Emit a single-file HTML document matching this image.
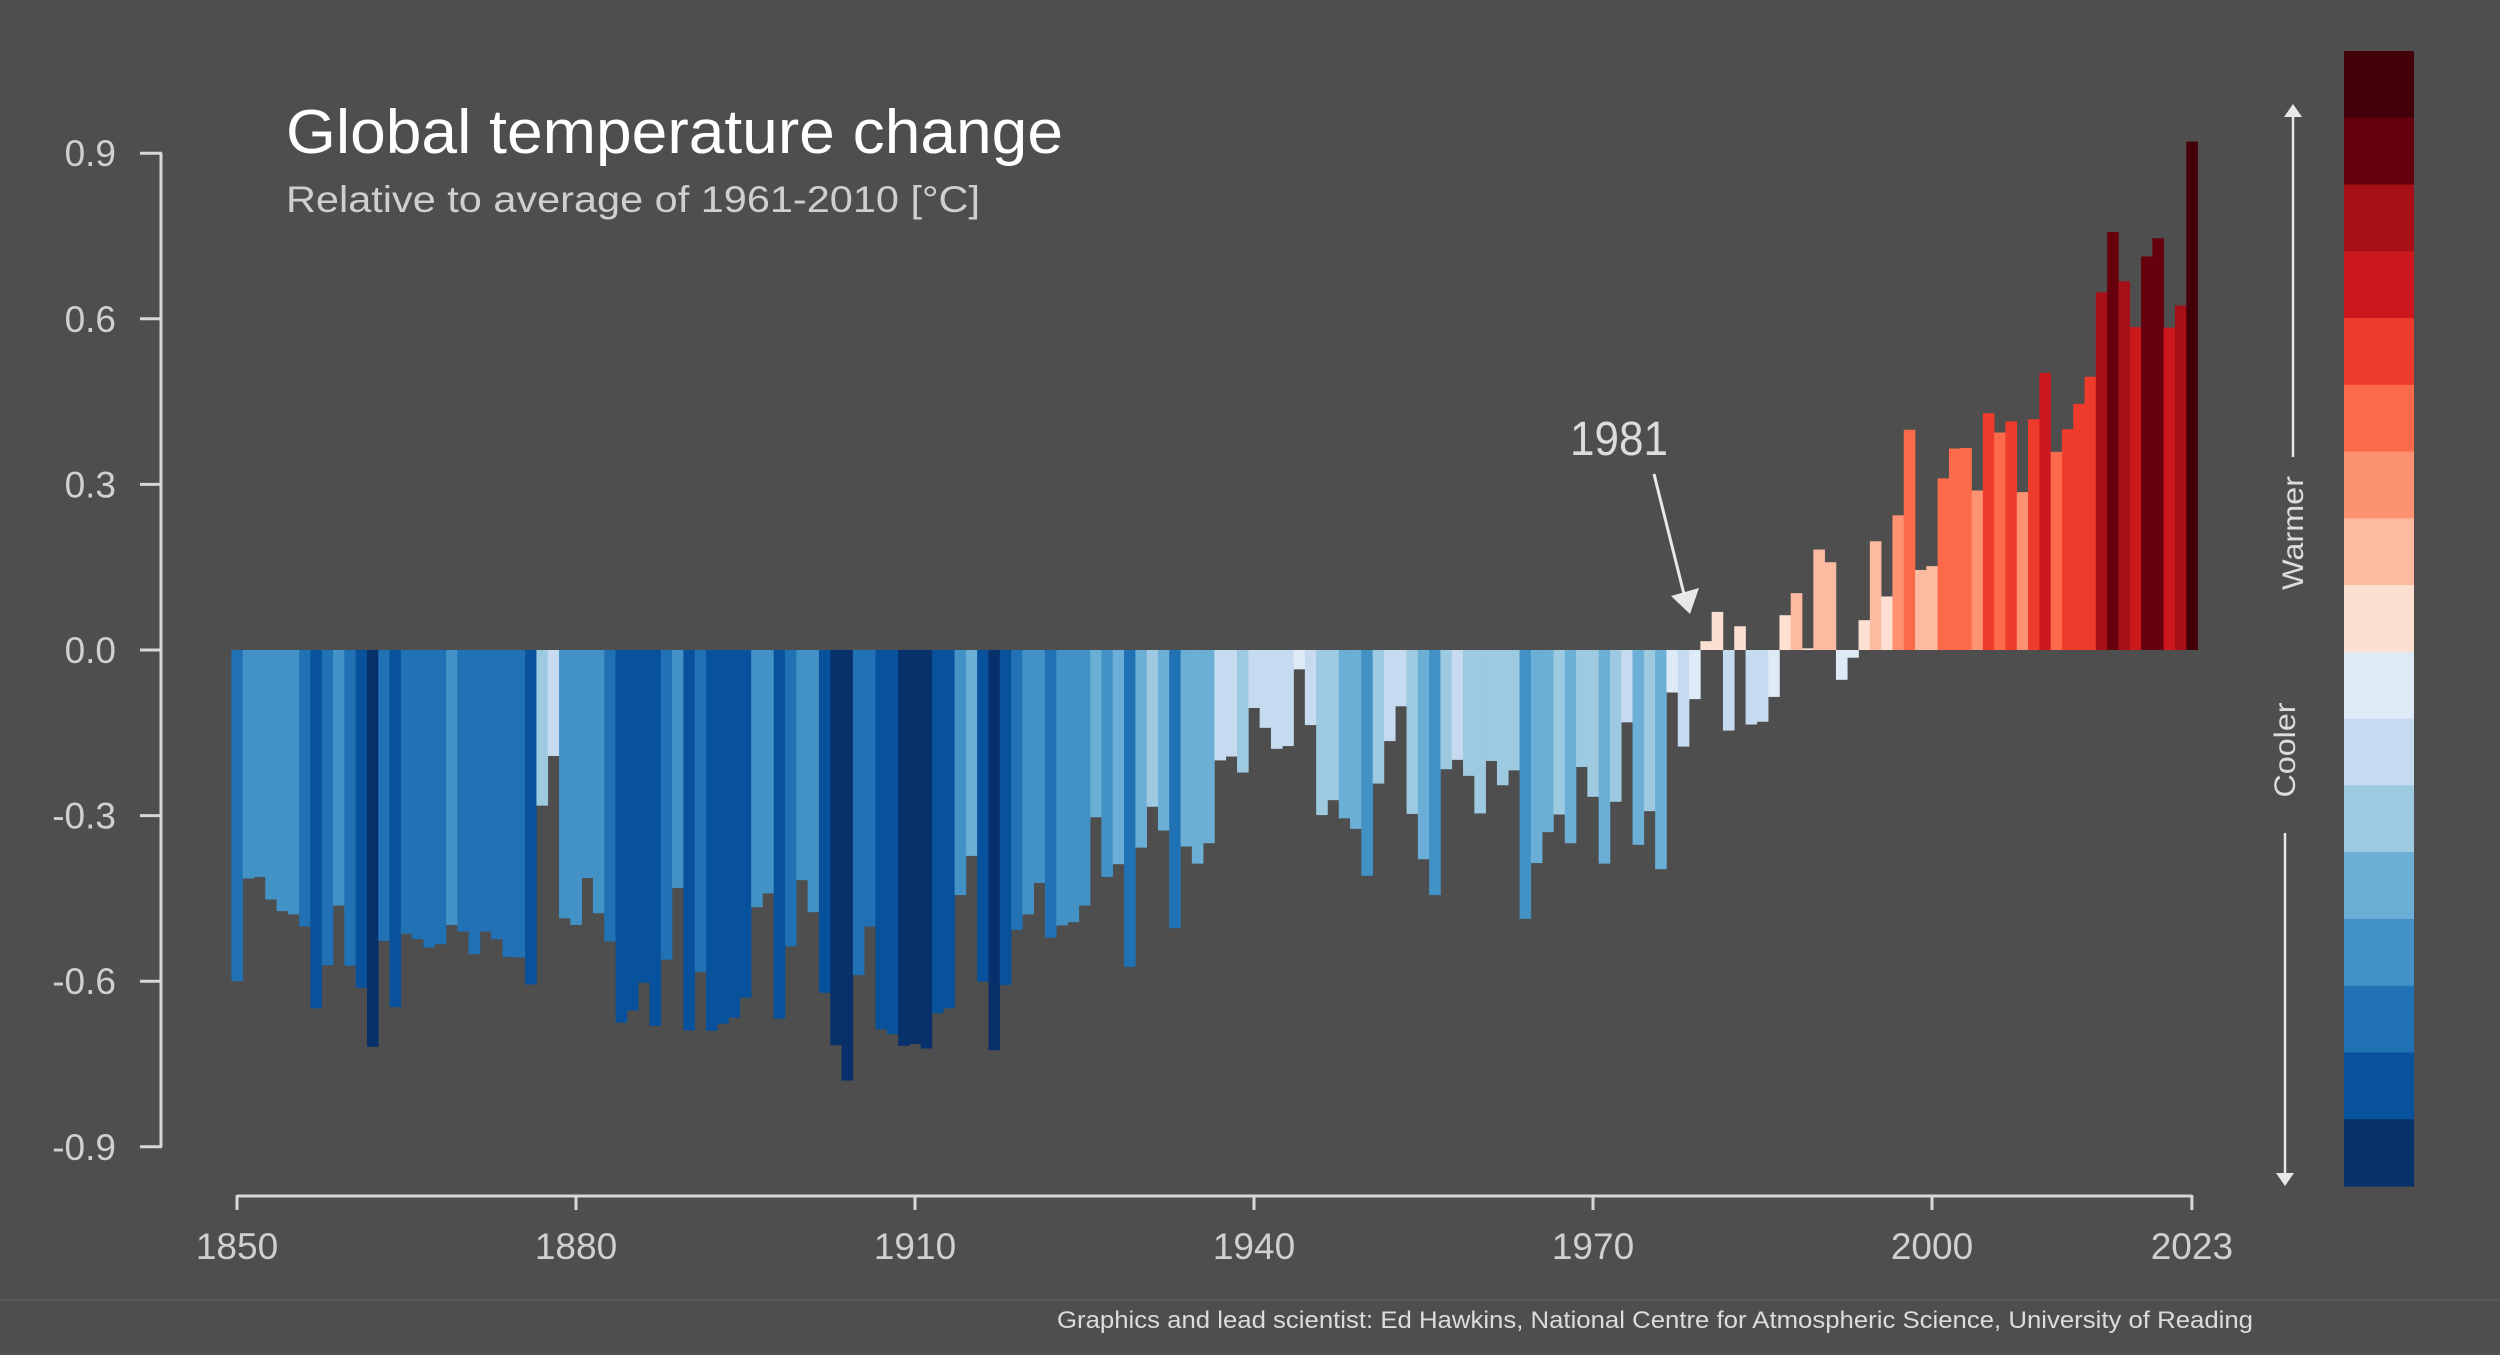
<!DOCTYPE html>
<html><head><meta charset="utf-8">
<style>
html,body{margin:0;padding:0;background:#4e4e4e;}
svg{display:block;}
text{font-family:"Liberation Sans",sans-serif;}
</style></head>
<body>
<svg id="chart" width="2500" height="1355" viewBox="0 0 2500 1355" xmlns="http://www.w3.org/2000/svg">
<rect x="0" y="0" width="2500" height="1355" fill="#4e4e4e"/>
<text x="286" y="153" font-size="62" fill="#ffffff" textLength="777" lengthAdjust="spacingAndGlyphs">Global temperature change</text>
<text x="286" y="212" font-size="37" fill="#cfcfcf" textLength="694" lengthAdjust="spacingAndGlyphs">Relative to average of 1961-2010  [°C]</text>
<g id="bars"></g>
<g id="yaxis"></g>
<g id="xaxis"></g>
<g>
<text x="1570" y="455" font-size="48" fill="#dcdcdc" textLength="98" lengthAdjust="spacingAndGlyphs">1981</text>
<line x1="1654" y1="474" x2="1684" y2="594" stroke="#e8e8e8" stroke-width="3"/>
<polygon points="1671,596 1699,588 1690,614" fill="#e8e8e8"/>
</g>
<g id="colorbar"></g>
<g>
<line x1="2293" y1="112" x2="2293" y2="457" stroke="#e8e8e8" stroke-width="2.5"/>
<polygon points="2284,117 2302,117 2293,104" fill="#e8e8e8"/>
<text transform="translate(2303,533) rotate(-90)" text-anchor="middle" font-size="30" fill="#dcdcdc" textLength="114" lengthAdjust="spacingAndGlyphs">Warmer</text>
<text transform="translate(2295,750) rotate(-90)" text-anchor="middle" font-size="30" fill="#dcdcdc" textLength="95" lengthAdjust="spacingAndGlyphs">Cooler</text>
<line x1="2285" y1="833" x2="2285" y2="1178" stroke="#e8e8e8" stroke-width="2.5"/>
<polygon points="2276,1173 2294,1173 2285,1186" fill="#e8e8e8"/>
</g>
<line x1="0" y1="1300" x2="2500" y2="1300" stroke="#5c5c5c" stroke-width="1.5"/>
<text x="2253" y="1328" text-anchor="end" font-size="24" fill="#dcdcdc" textLength="1196" lengthAdjust="spacingAndGlyphs">Graphics and lead scientist: Ed Hawkins, National Centre for Atmospheric Science, University of Reading</text>
</svg>
<script>
const startYear = 1850;
const anomalies = [
-0.600,-0.414,-0.411,-0.452,-0.473,-0.479,-0.501,-0.649,-0.571,-0.463,
-0.572,-0.612,-0.719,-0.527,-0.647,-0.514,-0.524,-0.539,-0.533,-0.498,
-0.510,-0.551,-0.510,-0.524,-0.556,-0.557,-0.606,-0.282,-0.192,-0.486,
-0.498,-0.413,-0.477,-0.528,-0.675,-0.653,-0.603,-0.681,-0.561,-0.431,
-0.689,-0.583,-0.690,-0.677,-0.666,-0.630,-0.466,-0.441,-0.668,-0.537,
-0.417,-0.475,-0.621,-0.716,-0.780,-0.589,-0.501,-0.687,-0.696,-0.717,
-0.714,-0.722,-0.658,-0.649,-0.444,-0.373,-0.601,-0.725,-0.607,-0.507,
-0.479,-0.422,-0.521,-0.499,-0.493,-0.463,-0.303,-0.411,-0.388,-0.574,
-0.358,-0.284,-0.327,-0.504,-0.356,-0.387,-0.350,-0.200,-0.193,-0.222,
-0.105,-0.141,-0.179,-0.174,-0.035,-0.136,-0.299,-0.272,-0.305,-0.324,
-0.409,-0.242,-0.165,-0.102,-0.297,-0.379,-0.444,-0.216,-0.199,-0.228,
-0.296,-0.201,-0.245,-0.218,-0.487,-0.386,-0.330,-0.298,-0.350,-0.212,
-0.266,-0.387,-0.275,-0.131,-0.353,-0.292,-0.397,-0.077,-0.175,-0.089,
0.016,0.069,-0.146,0.043,-0.135,-0.130,-0.085,0.063,0.103,0.003,
0.182,0.159,-0.054,-0.014,0.054,0.197,0.097,0.244,0.399,0.145,
0.152,0.311,0.365,0.366,0.289,0.429,0.394,0.414,0.286,0.418,
0.502,0.359,0.400,0.446,0.495,0.648,0.757,0.668,0.585,0.713,
0.746,0.584,0.624,0.921
];
const yTicks = [0.9, 0.6, 0.3, 0.0, -0.3, -0.6, -0.9];
const yTickLabels = ["0.9","0.6","0.3","0.0","-0.3","-0.6","-0.9"];
const xTicks = [1850, 1880, 1910, 1940, 1970, 2000, 2023];
const binColors = ["#08306b","#08519c","#2171b5","#4292c6","#6baed6","#9ecae1","#c6dbef","#deebf7",
                   "#fee0d2","#fcbba1","#fc9272","#fb6a4a","#ef3b2c","#cb181d","#a50f15","#67000d","#430008"];

const NS = "http://www.w3.org/2000/svg";
const barW = 11.3;
function xScale(year){ return 237 + (year - startYear) * barW; }
function yScale(v){ return 650 - v * 552; }
function colorFor(v){
  let idx = Math.floor(v / 0.1) + 8;
  if (idx < 0) idx = 0;
  if (idx > 16) idx = 16;
  return binColors[idx];
}
function mk(tag, attrs, parent){
  const e = document.createElementNS(NS, tag);
  for (const k in attrs) e.setAttribute(k, attrs[k]);
  parent.appendChild(e);
  return e;
}

const barsG = document.getElementById("bars");
anomalies.forEach((v, i) => {
  const yr = startYear + i;
  const y0 = yScale(0), y1 = yScale(v);
  const r = mk("rect", {x: (xScale(yr) - barW/2).toFixed(2), y: Math.min(y0, y1).toFixed(2),
    width: (barW + 0.3).toFixed(2), height: Math.max(Math.abs(y1 - y0), 0.5).toFixed(2), fill: colorFor(v)}, barsG);
  
  
});

const yG = document.getElementById("yaxis");
const yl = mk("line", {x1:161, y1:yScale(0.9), x2:161, y2:yScale(-0.9), stroke:"#d8d8d8", "stroke-width":3}, yG);


yTicks.forEach((t, i) => {
  const y = yScale(t);
  const tk = mk("line", {x1:140, y1:y, x2:162, y2:y, stroke:"#d8d8d8", "stroke-width":3}, yG);
  
  
  const tx = mk("text", {x:116, y:y+13, "text-anchor":"end", "font-size":37, fill:"#d0d0d0"}, yG);
  tx.textContent = yTickLabels[i];
  
  
});

const xG = document.getElementById("xaxis");
const xl = mk("line", {x1:xScale(1850), y1:1196, x2:xScale(2023), y2:1196, stroke:"#d8d8d8", "stroke-width":3}, xG);


xTicks.forEach(t => {
  const x = xScale(t);
  const tk = mk("line", {x1:x, y1:1195, x2:x, y2:1210, stroke:"#d8d8d8", "stroke-width":3}, xG);
  
  
  const tx = mk("text", {x:x, y:1259, "text-anchor":"middle", "font-size":37, fill:"#d0d0d0"}, xG);
  tx.textContent = String(t);
  
  
});

const cbG = document.getElementById("colorbar");
const cbTop = 51, cbH = (1186 - 51) / 17;
for (let i = 0; i < 17; i++) {
  const c = binColors[16 - i];
  const r = mk("rect", {x:2344, y:(cbTop + i*cbH).toFixed(2), width:70, height:(cbH+0.5).toFixed(2), fill:c}, cbG);
  
  
}
</script>
</body></html>
